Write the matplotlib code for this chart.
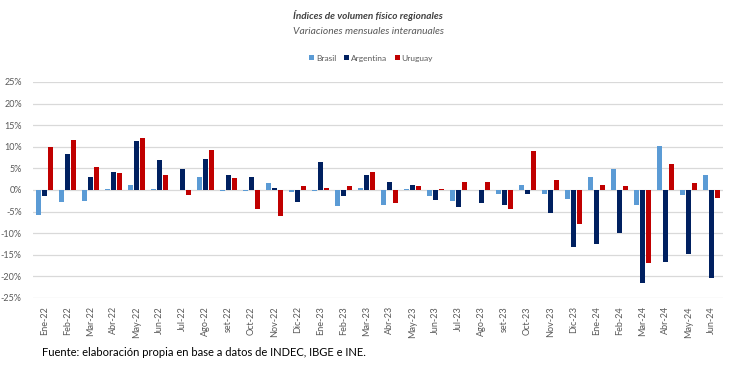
import matplotlib.pyplot as plt
import numpy as np

plt.rcParams['font.family'] = ['Lato', 'DejaVu Sans']

meses = ['Ene-22', 'Feb-22', 'Mar-22', 'Abr-22', 'May-22', 'Jun-22', 'Jul-22', 'Ago-22', 'set-22',
         'Oct-22', 'Nov-22', 'Dic-22', 'Ene-23', 'Feb-23', 'Mar-23', 'Abr-23', 'May-23', 'Jun-23',
         'Jul-23', 'Ago-23', 'set-23', 'Oct-23', 'Nov-23', 'Dic-23', 'Ene-24', 'Feb-24', 'Mar-24',
         'Abr-24', 'May-24', 'Jun-24']

brasil = [-5.9, -2.9, -2.5, 0.2, 1.2, 0.2, 0.1, 3.0, -0.3,
          -0.2, 1.5, -0.4, -0.2, -3.7, 0.5, -3.6, 0.2, -1.5,
          -2.6, 0.1, -0.9, 1.2, -1.0, -2.0, 3.0, 4.9, -3.6,
          10.1, -1.2, 3.5]
argentina = [-1.4, 8.3, 3.0, 4.2, 11.4, 7.0, 4.9, 7.1, 3.4,
             2.9, 0.5, -2.9, 6.4, -1.5, 3.4, 1.8, 1.2, -2.4,
             -3.9, -3.1, -3.4, -0.9, -5.3, -13.2, -12.4, -9.9, -21.5,
             -16.6, -14.9, -20.4]
uruguay = [10.0, 11.5, 5.3, 3.9, 12.0, 3.5, -1.1, 9.3, 2.8,
           -4.3, -6.0, 1.0, 0.5, 1.0, 4.1, -3.1, 0.9, 0.3,
           1.9, 1.9, -4.4, 9.1, 2.3, -8.0, 1.2, 0.8, -16.9,
           6.0, 1.5, -1.9]

series = [('Brasil', brasil, '#5B9BD5'),
          ('Argentina', argentina, '#002060'),
          ('Uruguay', uruguay, '#C00000')]

fig = plt.figure(figsize=(7.47, 3.71), dpi=100)
ax = fig.add_axes([0.044, 0.197, 0.924, 0.582])

x = np.arange(len(meses))
w = 0.2
for i, (nombre, vals, col) in enumerate(series):
    ax.bar(x + (i - 1) * 0.26, vals, width=w, color=col, label=nombre, zorder=3)

ax.set_xlim(-0.5, len(meses) - 0.5)
ax.set_ylim(-25, 25)
ax.set_yticks(np.arange(-25, 26, 5))
ax.set_yticklabels([f'{v}%' for v in range(-25, 26, 5)])
ax.set_xticks(x)
ax.set_xticklabels(meses, rotation=90)
ax.tick_params(axis='both', length=0, labelsize=6.5, labelcolor='#595959')
ax.tick_params(axis='y', pad=8)
ax.tick_params(axis='x', pad=6)
ax.grid(axis='y', color='#D9D9D9', linewidth=0.9, zorder=0)
for s in ax.spines.values():
    s.set_visible(False)

fig.text(0.493, 0.958, 'Índices de volumen físico regionales', ha='center', va='center',
         fontsize=7.2, style='italic', fontweight='bold', color='#404040')
fig.text(0.493, 0.915, 'Variaciones mensuales interanuales', ha='center', va='center',
         fontsize=7.4, style='italic', color='#595959')
ax.legend(loc='center', bbox_to_anchor=(0.49, 1.11), ncol=3, frameon=False, fontsize=6,
          handlelength=0.6, handleheight=0.6, handletextpad=0.25, columnspacing=0.9,
          labelcolor='#595959')

fig.text(0.056, 0.05, 'Fuente: elaboración propia en base a datos de INDEC, IBGE e INE.',
         fontsize=8, color='black', va='center')

fig.savefig('out.png', dpi=100)
